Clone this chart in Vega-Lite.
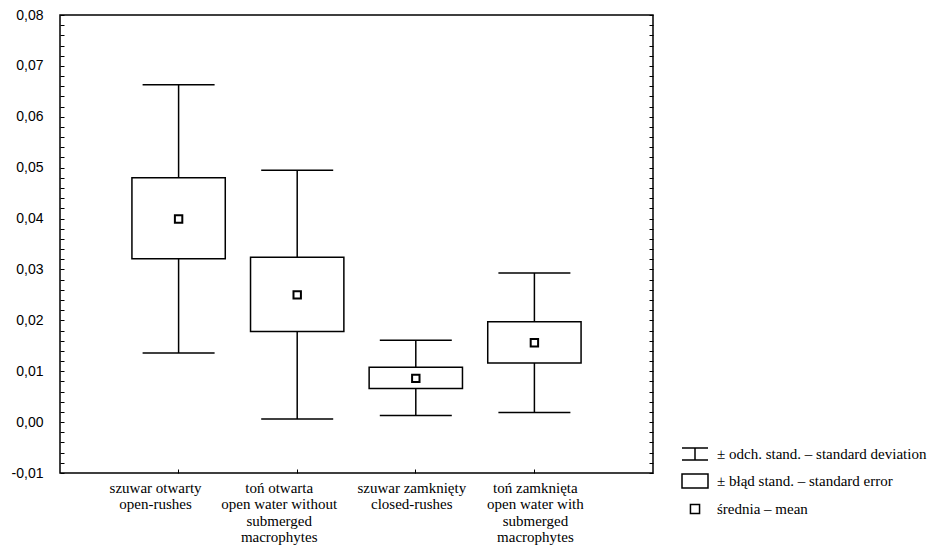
{
  "$schema": "https://vega.github.io/schema/vega-lite/v6.json",
  "width": 593,
  "height": 458,
  "autosize": {"type": "none"},
  "padding": {"left": 60, "top": 15, "right": 280, "bottom": 81},
  "background": "white",
  "config": {
    "view": {"stroke": "black", "strokeWidth": 1.5},
    "axis": {"domain": false, "grid": false, "tickColor": "black", "labelColor": "black", "tickWidth": 1}
  },
  "datasets": {
    "stats": [
      {"cat": "szuwar otwarty\nopen-rushes", "mean": 0.0399, "se_lo": 0.0321, "se_hi": 0.0480, "sd_lo": 0.0136, "sd_hi": 0.0663},
      {"cat": "toń otwarta\nopen water without\nsubmerged\nmacrophytes", "mean": 0.0250, "se_lo": 0.0178, "se_hi": 0.0324, "sd_lo": 0.0006, "sd_hi": 0.0495},
      {"cat": "szuwar zamknięty\nclosed-rushes", "mean": 0.0086, "se_lo": 0.0066, "se_hi": 0.0108, "sd_lo": 0.0013, "sd_hi": 0.0161},
      {"cat": "toń zamknięta\nopen water with\nsubmerged\nmacrophytes", "mean": 0.0156, "se_lo": 0.0116, "se_hi": 0.0197, "sd_lo": 0.0019, "sd_hi": 0.0293}
    ],
    "legendItems": [
      {"item": "± odch. stand. – standard deviation"},
      {"item": "± błąd stand. – standard error"},
      {"item": "średnia – mean"}
    ]
  },
  "layer": [
    {
      "data": {"name": "stats"},
      "encoding": {
        "x": {
          "field": "cat", "type": "nominal", "sort": null,
          "scale": {"type": "band", "paddingInner": 0.213, "paddingOuter": 0.6065},
          "axis": {
            "title": null, "labelAngle": 0, "tickSize": -4, "labelPadding": 11,
            "labelExpr": "split(datum.label, '\\n')",
            "labelFont": "Liberation Serif, Times New Roman, serif", "labelFontSize": 15, "labelLineHeight": 16.5,
            "labelLimit": 0, "labelOverlap": false,
            "labelOffset": {"condition": [
              {"test": "indexof(datum.value, 'szuwar otwarty') == 0", "value": -23},
              {"test": "indexof(datum.value, 'toń otwarta') == 0", "value": -18},
              {"test": "indexof(datum.value, 'szuwar zamkni') == 0", "value": -4}
            ], "value": 1}
          }
        }
      },
      "layer": [
        {
          "mark": {"type": "rule", "color": "black", "strokeWidth": 1.5},
          "encoding": {
            "y": {
              "field": "sd_lo", "type": "quantitative",
              "scale": {"domain": [-0.01, 0.08], "nice": false, "zero": false},
              "axis": {
                "title": null, "orient": "left", "tickSize": -4, "labelPadding": 21,
                "values": [-0.01, -0.008, -0.006, -0.004, -0.002, 0, 0.002, 0.004, 0.006, 0.008, 0.01, 0.012, 0.014, 0.016, 0.018, 0.02, 0.022, 0.024, 0.026, 0.028, 0.03, 0.032, 0.034, 0.036, 0.038, 0.04, 0.042, 0.044, 0.046, 0.048, 0.05, 0.052, 0.054, 0.056, 0.058, 0.06, 0.062, 0.064, 0.066, 0.068, 0.07, 0.072, 0.074, 0.076, 0.078, 0.08],
                "labelExpr": "abs(datum.value*100 - round(datum.value*100)) < 0.001 ? replace(replace(format(datum.value, '.2f'), '.', ','), '−', '-') : ''",
                "labelFont": "Liberation Sans", "labelFontSize": 14, "labelOverlap": false
              }
            },
            "y2": {"field": "sd_hi"}
          }
        },
        {
          "mark": {"type": "bar", "fill": "white", "stroke": "black", "strokeWidth": 1.5},
          "encoding": {
            "y": {
              "field": "se_lo", "type": "quantitative",
              "scale": {"domain": [-0.01, 0.08], "nice": false, "zero": false},
              "axis": {
                "title": null, "orient": "left", "tickSize": -4, "labelPadding": 21,
                "values": [-0.01, -0.008, -0.006, -0.004, -0.002, 0, 0.002, 0.004, 0.006, 0.008, 0.01, 0.012, 0.014, 0.016, 0.018, 0.02, 0.022, 0.024, 0.026, 0.028, 0.03, 0.032, 0.034, 0.036, 0.038, 0.04, 0.042, 0.044, 0.046, 0.048, 0.05, 0.052, 0.054, 0.056, 0.058, 0.06, 0.062, 0.064, 0.066, 0.068, 0.07, 0.072, 0.074, 0.076, 0.078, 0.08],
                "labelExpr": "abs(datum.value*100 - round(datum.value*100)) < 0.001 ? replace(replace(format(datum.value, '.2f'), '.', ','), '−', '-') : ''",
                "labelFont": "Liberation Sans", "labelFontSize": 14, "labelOverlap": false
              }
            },
            "y2": {"field": "se_hi"}
          }
        },
        {
          "mark": {"type": "point", "shape": "square", "filled": true, "fill": "white", "stroke": "black", "strokeWidth": 2, "size": 55, "opacity": 1},
          "encoding": {
            "y": {
              "field": "mean", "type": "quantitative",
              "scale": {"domain": [-0.01, 0.08], "nice": false, "zero": false},
              "axis": {
                "title": null, "orient": "left", "tickSize": -4, "labelPadding": 21,
                "values": [-0.01, -0.008, -0.006, -0.004, -0.002, 0, 0.002, 0.004, 0.006, 0.008, 0.01, 0.012, 0.014, 0.016, 0.018, 0.02, 0.022, 0.024, 0.026, 0.028, 0.03, 0.032, 0.034, 0.036, 0.038, 0.04, 0.042, 0.044, 0.046, 0.048, 0.05, 0.052, 0.054, 0.056, 0.058, 0.06, 0.062, 0.064, 0.066, 0.068, 0.07, 0.072, 0.074, 0.076, 0.078, 0.08],
                "labelExpr": "abs(datum.value*100 - round(datum.value*100)) < 0.001 ? replace(replace(format(datum.value, '.2f'), '.', ','), '−', '-') : ''",
                "labelFont": "Liberation Sans", "labelFontSize": 14, "labelOverlap": false
              }
            }
          }
        }
      ]
    },
    {
      "data": {"name": "stats"},
      "transform": [{"fold": ["sd_lo", "sd_hi"], "as": ["k", "v"]}],
      "mark": {"type": "tick", "color": "black", "size": 72, "thickness": 1.5, "opacity": 1},
      "encoding": {
        "x": {
          "field": "cat", "type": "nominal", "sort": null,
          "scale": {"type": "band", "paddingInner": 0.213, "paddingOuter": 0.6065},
          "axis": {
            "title": null, "labelAngle": 0, "tickSize": -4, "labelPadding": 11,
            "labelExpr": "split(datum.label, '\\n')",
            "labelFont": "Liberation Serif, Times New Roman, serif", "labelFontSize": 15, "labelLineHeight": 16.5,
            "labelLimit": 0, "labelOverlap": false,
            "labelOffset": {"condition": [
              {"test": "indexof(datum.value, 'szuwar otwarty') == 0", "value": -23},
              {"test": "indexof(datum.value, 'toń otwarta') == 0", "value": -18},
              {"test": "indexof(datum.value, 'szuwar zamkni') == 0", "value": -4}
            ], "value": 1}
          }
        },
        "y": {
          "field": "v", "type": "quantitative",
          "scale": {"domain": [-0.01, 0.08], "nice": false, "zero": false},
          "axis": {
            "title": null, "orient": "right", "tickSize": -4, "labels": false,
            "values": [-0.01, -0.008, -0.006, -0.004, -0.002, 0, 0.002, 0.004, 0.006, 0.008, 0.01, 0.012, 0.014, 0.016, 0.018, 0.02, 0.022, 0.024, 0.026, 0.028, 0.03, 0.032, 0.034, 0.036, 0.038, 0.04, 0.042, 0.044, 0.046, 0.048, 0.05, 0.052, 0.054, 0.056, 0.058, 0.06, 0.062, 0.064, 0.066, 0.068, 0.07, 0.072, 0.074, 0.076, 0.078, 0.08]
          }
        }
      }
    },
    {
      "data": {"name": "legendItems"},
      "mark": {"type": "point", "filled": false, "color": "black", "strokeWidth": 1.5, "opacity": 0},
      "encoding": {
        "shape": {
          "field": "item", "type": "nominal",
          "scale": {
            "domain": ["± odch. stand. – standard deviation", "± błąd stand. – standard error", "średnia – mean"],
            "range": ["M-1,-0.47L1,-0.47M0,-0.47L0,0.47M-1,0.47L1,0.47", "M-1,-0.54L1,-0.54L1,0.54L-1,0.54Z", "M-0.35,-0.35L0.35,-0.35L0.35,0.35L-0.35,0.35Z"]
          },
          "legend": {
            "title": null, "orient": "none", "legendX": 621, "legendY": 425, "padding": 0,
            "symbolSize": 676, "symbolStrokeWidth": 1.5, "symbolStrokeColor": "black",
            "symbolFillColor": "transparent", "symbolOpacity": 1,
            "labelFont": "Liberation Serif, Times New Roman, serif", "labelFontSize": 15, "labelColor": "black",
            "labelLimit": 400, "labelOffset": 8, "rowPadding": 3
          }
        }
      }
    }
  ],
  "resolve": {"scale": {"y": "independent"}}
}
